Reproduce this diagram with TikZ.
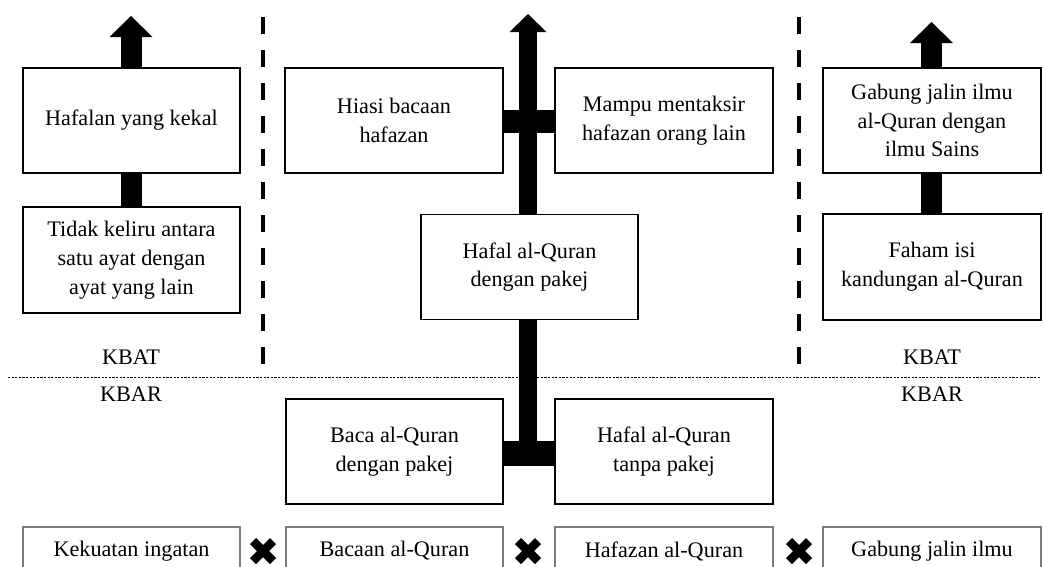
\documentclass[tikz,border=0pt]{standalone}
\usepackage{fontspec}
\setmainfont{Liberation Serif}
\usetikzlibrary{calc}
\pgfdeclarelayer{bg}
\pgfsetlayers{bg,main}
\definecolor{boxgray}{RGB}{125,125,125}
\begin{document}
\begin{tikzpicture}[x=1pt,y=-1pt,
  txt/.style={font=\fontsize{22.2}{28.8}\selectfont, align=center, inner sep=0pt},
  box/.style={txt, draw=black, line width=1.6pt, fill=white},
  graybox/.style={txt, draw=boxgray, line width=1.8pt, fill=white, minimum height=48pt},
  shaftA/.style={line width=21pt},
  shaftC/.style={line width=18pt},
  barT/.style={line width=23pt},
  barB/.style={line width=25pt},
  sepline/.style={line width=4pt, dash pattern=on 17pt off 16pt},
  dotline/.style={line width=1.6pt, dash pattern=on 2.2pt off 1.4pt},
  xmark/.style={line width=8.5pt}
]
\path[use as bounding box, clip] (0,0) rectangle (1043,566);

% KBAT boxes
\node[box, minimum width=217pt, minimum height=105pt] (kekal) at (131.5,120.5) {Hafalan yang kekal};
\node[box, minimum width=217pt, minimum height=106pt] (keliru) at (131.5,260) {Tidak keliru antara\\satu ayat dengan\\ayat yang lain};
\node[box, minimum width=218pt, minimum height=105pt] (hiasi) at (394,120.5) {Hiasi bacaan\\hafazan};
\node[box, minimum width=218pt, minimum height=105pt] (mampu) at (664,120.5) {Mampu mentaksir\\hafazan orang lain};
\node[box, minimum width=217pt, minimum height=105pt] (hdp) at (529.5,267) {Hafal al-Quran\\dengan pakej};
\node[box, minimum width=218pt, minimum height=105pt] (gabung) at (932,120.5) {Gabung jalin ilmu\\al-Quran dengan\\ilmu Sains};
\node[box, minimum width=218pt, minimum height=106pt] (faham) at (932,267) {Faham isi\\kandungan al-Quran};

% KBAR boxes
\node[box, minimum width=217pt, minimum height=105pt] (baca) at (394.5,451.5) {Baca al-Quran\\dengan pakej};
\node[box, minimum width=218pt, minimum height=105pt] (tanpa) at (664,451.5) {Hafal al-Quran\\tanpa pakej};

% labels
\node[txt] (kbat1) at (131,357) {KBAT};
\node[txt] (kbar1) at (131,394) {KBAR};
\node[txt] (kbat2) at (932,357) {KBAT};
\node[txt] (kbar2) at (932,394) {KBAR};

% bottom row
\node[graybox, minimum width=217pt] (b1) at (131.5,551) {Kekuatan ingatan};
\node[graybox, minimum width=217pt] (b2) at (394.5,551) {Bacaan al-Quran};
\node[graybox, minimum width=218pt] (b3) at (664,551) {Hafazan al-Quran};
\node[graybox, minimum width=218pt] (b4) at (932,551) {Gabung jalin ilmu};

% arrow tips (coordinates)
\coordinate (lh) at (131,37);
\coordinate (ch) at (528,32);
\coordinate (rh) at (931.5,43);

\begin{pgfonlayer}{bg}
  % left column
  \draw[shaftA] (keliru.north -| lh) -- (kekal.south -| lh);
  \draw[shaftA] (kekal.north -| lh) -- (lh);
  \fill (lh) ++(-21.5,0) -- ++(43,0) -- ++(-21.5,-21) -- cycle;
  % right column
  \draw[shaftA] (faham.north -| rh) -- (gabung.south -| rh);
  \draw[shaftA] (gabung.north -| rh) -- (rh);
  \fill (rh) ++(-21.5,0) -- ++(43,0) -- ++(-21.5,-21) -- cycle;
  % centre
  \coordinate (J) at ($(baca.east)!0.5!(tanpa.west)+(0,2)$);
  \draw[barB] ([yshift=-2pt]baca.east) -- ([yshift=-2pt]tanpa.west);
  \draw[shaftC] (J -| ch) -- (ch);
  \fill (ch) ++(-18.5,0) -- ++(37,0) -- ++(-18.5,-18) -- cycle;
  \draw[barT] ([yshift=-1pt]hiasi.east) -- ([yshift=-1pt]mampu.west);
\end{pgfonlayer}

% separators
\draw[sepline] (263,17) -- (263,364);
\draw[sepline] (799,17) -- (799,364);
\draw[dotline] (8,377.5) -- (1041,377.5);

% X marks
\foreach \cx in {263,528,799}{
  \draw[xmark] (\cx-10,541) -- (\cx+10,561);
  \draw[xmark] (\cx-10,561) -- (\cx+10,541);
}
\end{tikzpicture}
\end{document}
